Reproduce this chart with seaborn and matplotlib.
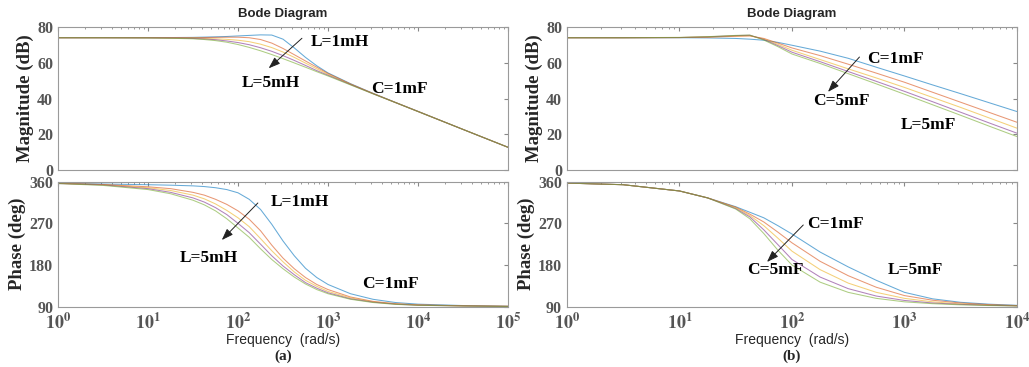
import numpy as np
import pandas as pd
import matplotlib
matplotlib.use("Agg")
import matplotlib.pyplot as plt
import seaborn as sns

# ---- data (values in dB / deg) ----
CURVES = ["1", "2", "3", "4", "5"]
COLORS = ["#0072BD", "#D95319", "#EDB120", "#7E2F8E", "#77AC30"]

# (a) inductance sweep, C = 1mF
freq_a = [1, 3.16, 10, 17.8, 31.6, 42.2, 56.2, 75.0, 100, 133, 178, 237, 316,
          422, 562, 750, 1000, 1778, 3162, 5623, 10000, 31623, 100000]
mag_a = [
    [74.0, 74.0, 74.0, 74.1, 74.2, 74.35, 74.5, 74.7, 75.0, 75.3, 75.6, 75.5, 73.2,
     68.3, 63.0, 58.3, 54.3, 48.3, 42.9, 37.8, 32.8, 22.7, 12.7],
    [74.0, 74.0, 74.0, 74.0, 74.0, 74.1, 74.2, 74.3, 74.3, 74.0, 73.0, 71.0, 68.0,
     64.5, 61.0, 57.5, 54.0, 48.1, 42.8, 37.8, 32.8, 22.7, 12.7],
    [74.0, 74.0, 74.0, 73.9, 73.8, 73.6, 73.4, 73.1, 72.6, 71.8, 70.4, 68.5, 66.0,
     63.0, 59.8, 56.6, 53.5, 48.0, 42.8, 37.7, 32.7, 22.7, 12.7],
    [74.0, 74.0, 73.95, 73.8, 73.6, 73.3, 72.9, 72.2, 71.3, 70.1, 68.4, 66.4, 64.0,
     61.3, 58.5, 55.6, 53.0, 47.8, 42.7, 37.7, 32.7, 22.7, 12.7],
    [74.0, 74.0, 73.9, 73.7, 73.4, 73.0, 72.4, 71.5, 70.2, 68.6, 66.7, 64.6, 62.3,
     59.9, 57.5, 55.0, 52.6, 47.6, 42.6, 37.7, 32.7, 22.7, 12.7],
]
phase_a = [
    [357, 355, 353.5, 352.5, 351, 349.5, 347, 343, 336, 322, 300, 268, 232,
     200, 173, 153, 138, 118, 106, 99, 95.5, 92.5, 91],
    [356.5, 354, 349, 345, 337, 331, 322, 311, 297, 279, 254, 223, 195,
     172, 153, 138, 127, 111, 101.5, 96.5, 94, 92, 91],
    [356.5, 353.5, 347, 341, 331, 323, 312, 298, 282, 263, 237, 211, 187,
     165, 147, 134, 123, 109, 100.5, 96, 93.5, 91.8, 90.8],
    [356, 353, 345, 337, 325, 316, 304, 289, 270, 250, 225, 200, 178,
     159, 142, 130, 120, 107, 99.8, 95.5, 93.2, 91.6, 90.6],
    [356, 352, 343, 334, 320, 310, 297, 280, 260, 240, 215, 192, 172,
     154, 139, 127, 118, 106, 99, 95, 93, 91.5, 90.5],
]

# (b) capacitance sweep
freq_b = [1, 3.16, 10, 17.8, 31.6, 42.2, 56.2, 75.0, 100, 178, 316, 562,
          1000, 1778, 3162, 5623, 10000]
mag_b = [
    [74, 74, 74, 73.9, 73.6, 73.2, 72.6, 71.4, 69.8, 66.5, 62.5, 57.5, 52.6, 47.6, 42.7, 37.7, 32.7],
    [74, 74, 74.1, 74.3, 74.8, 75.0, 73.6, 71.0, 68.3, 64.0, 59.2, 54.2, 49.1, 43.5, 37.9, 32.3, 26.7],
    [74, 74, 74.1, 74.4, 75.0, 75.2, 73.3, 70.3, 67.0, 61.8, 56.6, 51.5, 46.2, 40.6, 35.0, 29.2, 23.4],
    [74, 74, 74.1, 74.5, 75.2, 75.4, 73.0, 69.6, 65.9, 60.6, 55.1, 49.6, 44.0, 38.2, 32.3, 26.4, 20.6],
    [74, 74, 74.2, 74.6, 75.3, 75.5, 72.7, 69.0, 64.9, 59.6, 53.9, 48.2, 42.4, 36.5, 30.6, 24.6, 18.7],
]
phase_b = [
    [357, 353.5, 340, 325, 306, 294, 282, 265, 247, 208, 176, 147, 121, 107, 99.5, 95.5, 93],
    [357, 353.5, 340, 325, 305, 290, 273, 251, 228, 188, 157, 132, 114, 104, 98, 94.5, 92.5],
    [357, 353.5, 340, 325, 304, 287, 265, 238, 210, 170, 141, 121, 108, 100.5, 96, 93.5, 92],
    [357, 353.5, 340, 325, 302, 284, 256, 224, 192, 154, 129, 113, 103.5, 98, 95, 93, 91.8],
    [357, 353.5, 340, 325, 301, 280, 248, 212, 180, 143, 121, 108, 100.5, 96.5, 94, 92.5, 91.5],
]


def long_df(freq, series):
    return pd.DataFrame({
        "freq": np.tile(freq, len(series)),
        "value": np.concatenate(series),
        "curve": np.repeat(CURVES, len(freq)),
    })


sns.set_style("white")
plt.rcParams.update({
    "xtick.direction": "in", "ytick.direction": "in",
    "xtick.top": True, "ytick.right": True,
    "xtick.major.size": 3, "ytick.major.size": 3,
    "xtick.minor.size": 1.6, "xtick.minor.visible": True,
    "xtick.color": "#888888", "ytick.color": "#888888",
    "axes.edgecolor": "#9a9a9a", "axes.linewidth": 0.8,
    "mathtext.fontset": "stix",
})
SERIF = ["Liberation Serif", "DejaVu Serif"]
SANS = ["Liberation Sans", "DejaVu Sans"]

fig = plt.figure(figsize=(10.29, 3.67), dpi=100)
W = 0.4373
axes = {
    "a_mag": fig.add_axes([0.0564, 0.5368, W, 0.3896]),
    "a_ph": fig.add_axes([0.0564, 0.1643, W, 0.3406]),
    "b_mag": fig.add_axes([0.551, 0.5368, W, 0.3896]),
    "b_ph": fig.add_axes([0.551, 0.1643, W, 0.3406]),
}

panels = [
    ("a_mag", freq_a, mag_a), ("a_ph", freq_a, phase_a),
    ("b_mag", freq_b, mag_b), ("b_ph", freq_b, phase_b),
]
for key, freq, series in panels:
    ax = axes[key]
    sns.lineplot(data=long_df(freq, series), x="freq", y="value", hue="curve",
                 palette=COLORS, linewidth=0.75, alpha=0.6, legend=False,
                 sort=False, ax=ax)
    ax.set_xscale("log")
    ax.set_xlim(freq[0], freq[-1])
    ax.set_xlabel("")
    ax.set_ylabel("")

tick_kw = dict(fontfamily=SERIF, fontweight="bold", color="#555555")
for key in ["a_mag", "b_mag"]:
    ax = axes[key]
    ax.set_ylim(0, 80)
    ax.set_yticks([0, 20, 40, 60, 80])
    ax.set_yticklabels(["0", "20", "40", "60", "80"], fontsize=11.5, **tick_kw)
    ax.tick_params(axis="x", which="both", labelbottom=False)
    ax.set_ylabel("Magnitude (dB)", fontfamily=SERIF, fontweight="bold",
                  fontsize=13.5, labelpad=2)
    ax.set_title("Bode Diagram", fontfamily=SANS, fontsize=9.5,
                 fontweight="bold", pad=7)

for key, decades, tag in [("a_ph", 6, "(a)"), ("b_ph", 5, "(b)")]:
    ax = axes[key]
    ax.set_ylim(90, 360)
    ax.set_yticks([90, 180, 270, 360])
    ax.set_yticklabels(["90", "180", "270", "360"], fontsize=11.5, **tick_kw)
    ax.set_ylabel("Phase (deg)", fontfamily=SERIF, fontweight="bold",
                  fontsize=13.5, labelpad=2)
    ticks = [10.0 ** k for k in range(decades)]
    ax.set_xticks(ticks)
    ax.set_xticklabels([r"$\mathbf{10^{%d}}$" % k for k in range(decades)],
                       fontsize=13, color="#555555")
    ax.tick_params(axis="x", which="major", pad=4)
    ax.set_xlabel("Frequency  (rad/s)", fontfamily=SANS, fontsize=10,
                  labelpad=0)
    ax.text(0.5, -0.40, tag, transform=ax.transAxes, ha="center", va="center",
            fontfamily=SERIF, fontweight="bold", fontsize=11)

ann = dict(fontfamily=SERIF, fontweight="bold", fontsize=12.5,
           ha="center", va="center", color="black")
arrow = dict(arrowstyle="-|>,head_length=0.7,head_width=0.25", color="#222222",
             lw=0.7, shrinkA=0, shrinkB=0)

ax = axes["a_mag"]
ax.text(1350, 71.6, "L=1mH", **ann)
ax.text(230, 48.4, "L=5mH", **ann)
ax.text(6150, 45.1, "C=1mF", **ann)
ax.annotate("", xy=(219, 56.9), xytext=(513, 73.7), arrowprops=arrow)

ax = axes["a_ph"]
ax.text(490, 317, "L=1mH", **ann)
ax.text(47, 196, "L=5mH", **ann)
ax.text(4900, 140, "C=1mF", **ann)
ax.annotate("", xy=(66, 234), xytext=(166, 314), arrowprops=arrow)

ax = axes["b_mag"]
ax.text(832, 62.1, "C=1mF", **ann)
ax.text(275, 38.7, "C=5mF", **ann)
ax.text(1620, 25.3, "L=5mF", **ann)
ax.annotate("", xy=(209, 43.7), xytext=(398, 63.2), arrowprops=arrow)

ax = axes["b_ph"]
ax.text(245, 269.7, "C=1mF", **ann)
ax.text(71, 169, "C=5mF", **ann)
ax.text(1260, 169, "L=5mF", **ann)
ax.annotate("", xy=(60, 186.6), xytext=(126, 266.5), arrowprops=arrow)

fig.savefig("out.png", dpi=100)
